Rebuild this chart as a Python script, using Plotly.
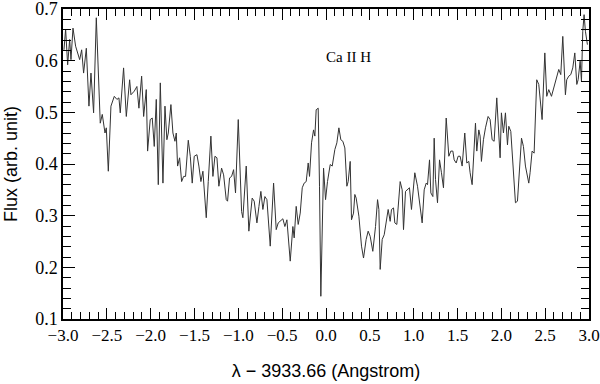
"""Ca II H line profile, flux vs. wavelength offset."""

import plotly.graph_objects as go

# wavelength offset from 3933.66 (Angstrom)
wave = [
    -2.989, -2.970, -2.947, -2.924, -2.909, -2.886, -2.856, -2.833, -2.810, -2.787,
    -2.765, -2.734, -2.704, -2.681, -2.651, -2.620, -2.575, -2.552, -2.521, -2.506,
    -2.483, -2.453, -2.415, -2.385, -2.362, -2.347, -2.309, -2.278, -2.240, -2.225,
    -2.187, -2.157, -2.134, -2.103, -2.080, -2.050, -2.035, -2.005, -1.982, -1.959,
    -1.936, -1.913, -1.890, -1.860, -1.837, -1.815, -1.799, -1.769, -1.746, -1.723,
    -1.708, -1.693, -1.670, -1.647, -1.624, -1.602, -1.571, -1.548, -1.526, -1.503,
    -1.472, -1.450, -1.427, -1.404, -1.366, -1.343, -1.313, -1.290, -1.267, -1.244,
    -1.222, -1.191, -1.168, -1.138, -1.123, -1.100, -1.077, -1.054, -1.032, -1.001,
    -0.978, -0.963, -0.948, -0.910, -0.880, -0.842, -0.819, -0.788, -0.765, -0.743,
    -0.720, -0.697, -0.674, -0.636, -0.598, -0.568, -0.545, -0.522, -0.492, -0.469,
    -0.446, -0.408, -0.378, -0.363, -0.340, -0.317, -0.294, -0.271, -0.249, -0.226,
    -0.203, -0.188, -0.165, -0.142, -0.127, -0.112, -0.089, -0.074, -0.059, -0.028,
    -0.005, 0.017, 0.048, 0.071, 0.101, 0.124, 0.147, 0.169, 0.192, 0.215,
    0.238, 0.253, 0.276, 0.291, 0.314, 0.329, 0.344, 0.375, 0.405, 0.428,
    0.458, 0.481, 0.504, 0.534, 0.565, 0.588, 0.603, 0.618, 0.641, 0.664,
    0.686, 0.709, 0.732, 0.747, 0.770, 0.785, 0.808, 0.846, 0.869, 0.884,
    0.907, 0.930, 0.952, 0.975, 0.990, 1.013, 1.044, 1.066, 1.097, 1.120,
    1.143, 1.158, 1.181, 1.196, 1.219, 1.234, 1.249, 1.272, 1.295, 1.317,
    1.340, 1.371, 1.401, 1.424, 1.447, 1.462, 1.485, 1.507, 1.530, 1.553,
    1.583, 1.606, 1.629, 1.644, 1.667, 1.705, 1.720, 1.743, 1.758, 1.773,
    1.796, 1.819, 1.849, 1.872, 1.895, 1.918, 1.948, 1.986, 2.001, 2.024,
    2.047, 2.070, 2.085, 2.108, 2.138, 2.161, 2.184, 2.207, 2.230, 2.252,
    2.275, 2.313, 2.328, 2.351, 2.374, 2.404, 2.427, 2.465, 2.496, 2.518,
    2.541, 2.572, 2.602, 2.632, 2.655, 2.678, 2.701, 2.731, 2.746, 2.769,
    2.792, 2.815, 2.838, 2.861, 2.876, 2.899, 2.914, 2.929, 2.944, 2.959,
    2.982,
]

# flux (arb. unit)
flux = [
    0.621, 0.661, 0.592, 0.641, 0.602, 0.663, 0.628, 0.615, 0.602, 0.621,
    0.576, 0.624, 0.512, 0.576, 0.499, 0.683, 0.479, 0.496, 0.460, 0.470,
    0.386, 0.512, 0.531, 0.525, 0.528, 0.499, 0.586, 0.492, 0.563, 0.534,
    0.541, 0.550, 0.508, 0.570, 0.492, 0.544, 0.425, 0.486, 0.489, 0.434,
    0.525, 0.360, 0.557, 0.363, 0.512, 0.447, 0.460, 0.515, 0.460, 0.444,
    0.460, 0.396, 0.412, 0.366, 0.376, 0.376, 0.446, 0.415, 0.363, 0.415,
    0.418, 0.396, 0.366, 0.386, 0.296, 0.366, 0.454, 0.376, 0.415, 0.412,
    0.357, 0.392, 0.379, 0.331, 0.328, 0.373, 0.376, 0.389, 0.344, 0.486,
    0.392, 0.308, 0.296, 0.396, 0.270, 0.334, 0.328, 0.286, 0.318, 0.347,
    0.312, 0.337, 0.331, 0.241, 0.363, 0.273, 0.286, 0.289, 0.294, 0.279,
    0.292, 0.212, 0.279, 0.257, 0.318, 0.283, 0.305, 0.354, 0.363, 0.366,
    0.402, 0.376, 0.441, 0.466, 0.454, 0.505, 0.508, 0.357, 0.144, 0.392,
    0.331, 0.366, 0.399, 0.396, 0.428, 0.441, 0.470, 0.447, 0.444, 0.431,
    0.357, 0.366, 0.405, 0.292, 0.305, 0.341, 0.334, 0.299, 0.241, 0.218,
    0.254, 0.270, 0.260, 0.231, 0.279, 0.331, 0.312, 0.196, 0.254, 0.263,
    0.286, 0.312, 0.289, 0.312, 0.315, 0.286, 0.283, 0.366, 0.350, 0.273,
    0.347, 0.350, 0.354, 0.312, 0.344, 0.383, 0.357, 0.331, 0.286, 0.350,
    0.363, 0.360, 0.408, 0.344, 0.337, 0.450, 0.370, 0.325, 0.408, 0.383,
    0.354, 0.489, 0.415, 0.425, 0.425, 0.408, 0.402, 0.415, 0.415, 0.396,
    0.460, 0.402, 0.405, 0.383, 0.360, 0.479, 0.425, 0.466, 0.454, 0.405,
    0.447, 0.470, 0.492, 0.486, 0.447, 0.444, 0.528, 0.412, 0.499, 0.460,
    0.499, 0.437, 0.473, 0.463, 0.392, 0.325, 0.328, 0.396, 0.450, 0.434,
    0.396, 0.363, 0.383, 0.425, 0.421, 0.563, 0.554, 0.486, 0.615, 0.531,
    0.544, 0.531, 0.550, 0.573, 0.583, 0.573, 0.647, 0.534, 0.563, 0.570,
    0.573, 0.586, 0.615, 0.554, 0.563, 0.599, 0.560, 0.657, 0.689, 0.657,
    0.631,
]

LINE_LABEL = "Ca II H"
LABEL_POS = (0.26, 0.608)

SERIF = "Liberation Serif, Times New Roman, serif"
SANS = "Liberation Sans, Arial, sans-serif"

fig = go.Figure(go.Scatter(
    x=wave, y=flux, mode="lines",
    line=dict(color="#333333", width=1),
    showlegend=False, hoverinfo="x+y",
))

fig.add_annotation(
    x=LABEL_POS[0], y=LABEL_POS[1], text=LINE_LABEL, showarrow=False,
    font=dict(family=SERIF, size=15, color="black"),
)

axis_common = dict(
    showline=True, linecolor="black", linewidth=1.5, mirror="ticks",
    ticks="inside", tickcolor="black", tickwidth=1,
    showgrid=False, zeroline=False, automargin=False,
    ticklabeloverflow="allow",
)

fig.update_xaxes(
    range=[-3, 3], dtick=0.5, tick0=-3, ticklen=11, tickformat=".1f",
    minor=dict(ticks="inside", dtick=0.1, ticklen=7, tickcolor="black", showgrid=False),
    tickfont=dict(family=SERIF, size=17, color="black"),
    title=dict(text="λ − 3933.66 (Angstrom)", font=dict(family=SANS, size=18, color="black"),
               standoff=20),
    **axis_common,
)
fig.update_yaxes(
    range=[0.1, 0.7], dtick=0.1, tick0=0.1, ticklen=12, tickformat=".1f",
    minor=dict(ticks="inside", dtick=0.02, ticklen=8, tickcolor="black", showgrid=False),
    tickfont=dict(family=SERIF, size=18, color="black"),
    title=dict(text="Flux (arb. unit)", font=dict(family=SANS, size=18, color="black"),
               standoff=13),
    **axis_common,
)

fig.update_layout(
    width=600, height=384,
    margin=dict(l=63, r=11, t=9, b=65),
    plot_bgcolor="white", paper_bgcolor="white",
)

# drop the browser's default body margin so the 600x384 figure fills the window
fig.write_html(
    "out.html",
    config={"displayModeBar": False},
    post_script="document.body.style.margin = '0';",
)
